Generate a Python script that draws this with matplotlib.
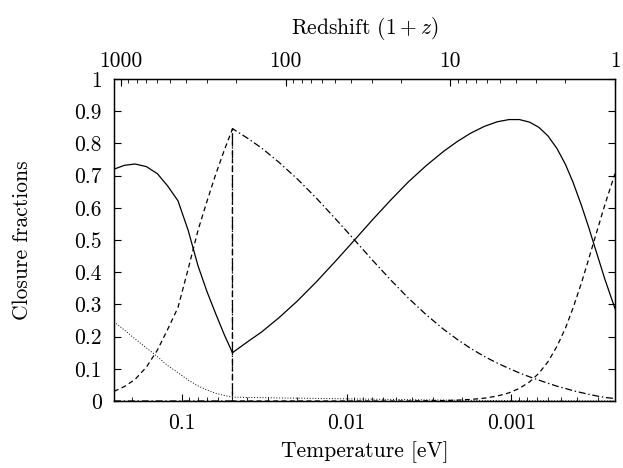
import numpy as np
import matplotlib
matplotlib.use('Agg')
from matplotlib import pyplot as plt
from matplotlib.ticker import LogLocator, NullFormatter

plt.rcParams['font.family'] = ['cmr10', 'DejaVu Serif']
plt.rcParams['mathtext.fontset'] = 'cm'
plt.rcParams['axes.unicode_minus'] = False
plt.rcParams['lines.scale_dashes'] = False

# Temperatura de hoy [eV] (1+z = 1)
T0 = 2.35e-4

# Redshift (1+z) antes y despues del quiebre
z_early = [1100, 950, 820, 700, 600, 520, 450, 390, 340, 300, 265, 235, 210]
z_late = [210, 170, 140, 110, 85, 65, 50, 40, 30, 23, 18, 14, 11, 9, 7.5, 6.2,
          5.2, 4.4, 3.8, 3.3, 2.9, 2.55, 2.25, 2.0, 1.8, 1.6, 1.45, 1.3, 1.15, 1.0]

# Curva continua
solid_early = [0.72, 0.732, 0.736, 0.728, 0.706, 0.668, 0.622, 0.53, 0.42, 0.34,
               0.27, 0.205, 0.15]
solid_late = [0.15, 0.184, 0.214, 0.258, 0.31, 0.37, 0.433, 0.488, 0.56, 0.624,
              0.68, 0.731, 0.775, 0.807, 0.832, 0.853, 0.867, 0.874, 0.874, 0.866,
              0.85, 0.823, 0.784, 0.735, 0.68, 0.608, 0.542, 0.464, 0.377, 0.287]

# Curva a trazos
dashed_early = [0.03, 0.045, 0.067, 0.105, 0.158, 0.222, 0.29, 0.41, 0.53, 0.62,
                0.705, 0.78, 0.845]
dashed_late = [0, 0, 0, 0, 0, 0, 0, 0, 0, 0, 0.0001, 0.0007, 0.0014, 0.0027,
               0.0049, 0.0088, 0.0152, 0.0253, 0.0393, 0.0594, 0.086, 0.122, 0.17,
               0.226, 0.288, 0.366, 0.438, 0.52, 0.611, 0.706]

# Curva trazo-punto
dashdot_early = [0, 0, 0, 0, 0, 0, 0, 0, 0, 0, 0, 0, 0]
dashdot_late = [0.846, 0.816, 0.786, 0.742, 0.69, 0.63, 0.567, 0.512, 0.44, 0.376,
                0.32, 0.268, 0.223, 0.19, 0.163, 0.138, 0.118, 0.101, 0.087, 0.075,
                0.065, 0.055, 0.046, 0.039, 0.032, 0.026, 0.021, 0.016, 0.011, 0.0075]

# Curva punteada
dotted_early = [0.246, 0.22, 0.193, 0.165, 0.138, 0.11, 0.088, 0.065, 0.047, 0.034,
                0.024, 0.017, 0.012]
dotted_late = [0.012, 0.011, 0.0105, 0.0095, 0.0088, 0.008, 0.0072, 0.0065, 0.0057,
               0.005, 0.0042, 0.0035, 0.0028, 0.0024, 0.002, 0.0017, 0.0014, 0.0012,
               0.001, 0.0009, 0.0008, 0.0007, 0.0006, 0.0005, 0.0005, 0.0004, 0.0004,
               0.0003, 0.0003, 0.0003]

y_ticks = [0, 0.1, 0.2, 0.3, 0.4, 0.5, 0.6, 0.7, 0.8, 0.9, 1]
y_labels = ['0', '0.1', '0.2', '0.3', '0.4', '0.5', '0.6', '0.7', '0.8', '0.9', '1']
T_ticks = [0.1, 0.01, 0.001]
T_labels = ['0.1', '0.01', '0.001']
z_ticks = [1000, 100, 10, 1]
z_labels = ['1000', '100', '10', '1']

T_all = T0 * np.array(z_early + z_late)

fig = plt.figure(figsize=(6.23, 4.68), dpi=100)
ax = fig.add_axes([114/623, 1 - 401/468, 501/623, 322/468])

lw = 0.9
ax.plot(T_all, solid_early + solid_late, color='k', lw=lw)
ax.plot(T_all, dashed_early + dashed_late, color='k', lw=lw, dashes=(3.5, 2.5))
ax.plot(T_all, dashdot_early + dashdot_late, color='k', lw=lw, dashes=(5, 2, 1, 2))
ax.plot(T_all, dotted_early + dotted_late, color='k', lw=0.7, dashes=(0.7, 1.3))

ax.set_xscale('log')
ax.set_xlim(T0 * z_early[0], T0 * z_late[-1])
ax.set_ylim(0, 1)
ax.set_xticks(T_ticks, T_labels)
ax.xaxis.set_minor_locator(LogLocator(base=10, subs=np.arange(2, 10), numticks=20))
ax.xaxis.set_minor_formatter(NullFormatter())
ax.set_yticks(y_ticks, y_labels)

fs = 15.5
ax.tick_params(axis='x', which='both', direction='in', top=False, bottom=True,
               labelsize=fs, pad=9)
ax.tick_params(axis='y', which='both', direction='in', left=True, right=True,
               labelsize=fs, pad=9)
ax.tick_params(which='major', length=5, width=0.8)
ax.tick_params(which='minor', length=3, width=0.6)
for s in ax.spines.values():
    s.set_linewidth(1.0)

ax.set_xlabel('Temperature [eV]', fontsize=fs, labelpad=6)
ax.set_ylabel('Closure fractions', fontsize=fs, labelpad=30)

# Eje superior: redshift
ax2 = ax.twiny()
ax2.set_xscale('log')
ax2.set_xlim(z_early[0], z_late[-1])
ax2.set_xticks(z_ticks, z_labels)
ax2.xaxis.set_minor_locator(LogLocator(base=10, subs=np.arange(2, 10), numticks=20))
ax2.xaxis.set_minor_formatter(NullFormatter())
ax2.tick_params(axis='x', which='both', direction='in', labelsize=fs, pad=6)
ax2.tick_params(which='major', length=5, width=0.8)
ax2.tick_params(which='minor', length=3, width=0.6)
ax2.set_xlabel('Redshift $(1+z)$', fontsize=fs, labelpad=12)

fig.savefig('out.png', dpi=100)
